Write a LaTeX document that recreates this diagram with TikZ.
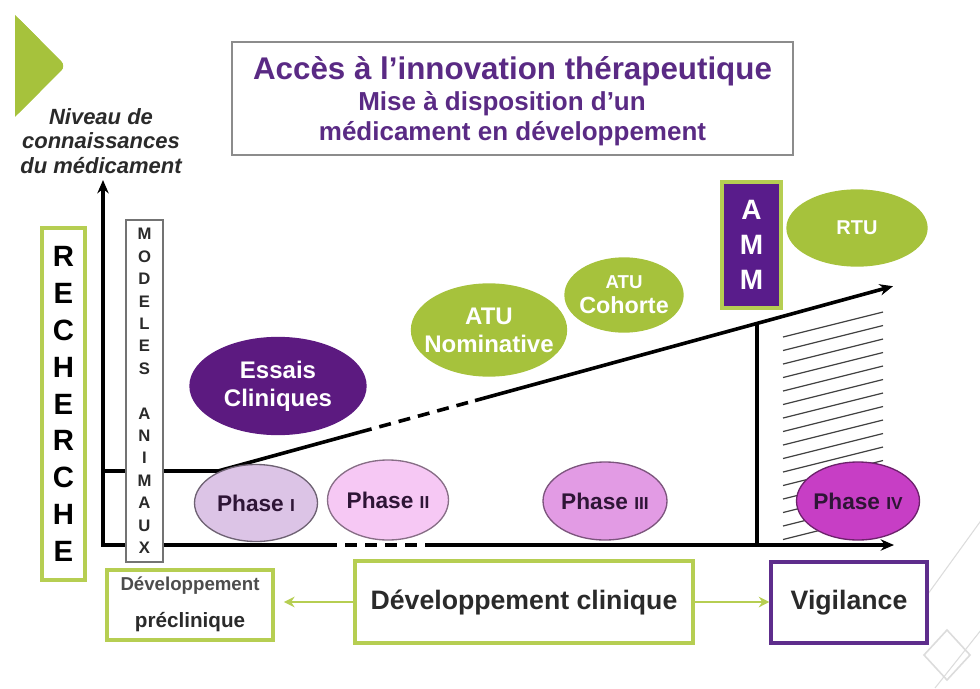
\documentclass[tikz,border=0pt]{standalone}
\usepackage{fontspec}
\setmainfont{Liberation Sans}
\usetikzlibrary{shapes.geometric,arrows.meta}
\definecolor{lime}{HTML}{A6C23C}
\definecolor{limeb}{HTML}{B6CE52}
\definecolor{deeppurple}{HTML}{5C1A80}
\definecolor{ammpurple}{HTML}{591C8B}
\definecolor{titlepurple}{HTML}{5A2A84}
\definecolor{vigpurple}{HTML}{5E2D8C}
\definecolor{ph1}{HTML}{DCC4E6}
\definecolor{ph2}{HTML}{F6C8F4}
\definecolor{ph3}{HTML}{E29BE4}
\definecolor{ph4}{HTML}{C73EC5}
\definecolor{phtext}{HTML}{2E1536}
\definecolor{deco}{HTML}{DCDCDC}
\definecolor{darktext}{HTML}{2A2A2A}
\begin{document}
\begin{tikzpicture}[x=0.75pt,y=-0.75pt,
  axis/.style={line width=2.7pt,black},
  axtip/.style={-{Stealth[length=10pt,width=8.5pt]}},
  dashpart/.style={dash pattern=on 9pt off 6pt},
  hatchline/.style={line width=0.9pt,black!75},
  ell/.style={ellipse,inner sep=0pt,draw,line width=1pt},
  greenbox/.style={draw=limeb,line width=2.4pt,fill=white,inner sep=0pt},
  greenarrow/.style={draw=limeb,line width=2pt,-{Stealth[length=8pt,width=8pt]}},
  whitetxt/.style={text=white,font=\bfseries\fontsize{18pt}{21pt}\selectfont,align=center},
  phtxt/.style={text=phtext,font=\bfseries\fontsize{17pt}{20pt}\selectfont}
]
\useasboundingbox (0,0) rectangle (980,688);
% background decoration
\draw[deco,line width=0.8pt] (985,515) -- (925,598);
\draw[deco,line width=1.2pt] (947,630) -- (970,655) -- (947,680) -- (924,655) -- cycle;
\draw[deco,line width=0.8pt] (985,625) -- (935,688);
% green triangle
\fill[lime,rounded corners=5pt] (15,15) -- (66,66) -- (15,117) -- cycle;
\fill[lime] (15,15) -- (40,40) -- (40,92) -- (15,117) -- cycle;
% axis label
\node[font=\bfseries\itshape\fontsize{16.5pt}{18.5pt}\selectfont,text=darktext,align=center] (ylabel) at (101,141) {Niveau de\\connaissances\\du médicament};
% title
\node[draw=black!45,line width=1.2pt,minimum width={561*0.75pt},minimum height={113*0.75pt},inner sep=0pt] (titlebox) at (512.5,98.5) {};
\node[text=titlepurple,font=\bfseries\fontsize{23.5pt}{26pt}\selectfont] (t1) at (512.5,71) {Accès à l’innovation thérapeutique};
\node[text=titlepurple,font=\bfseries\fontsize{19.5pt}{22pt}\selectfont] (t2) at (502,104) {Mise à disposition d’un};
\node[text=titlepurple,font=\bfseries\fontsize{19.5pt}{22pt}\selectfont] (t3) at (512.5,134) {médicament en développement};
% axes
\coordinate (ytop) at (103,180);
\coordinate (origin) at (103,545);
\coordinate (xd1) at (325,545);
\coordinate (xd2) at (433,545);
\coordinate (xend) at (894,545);
\draw[axis,{Stealth[length=10pt,width=8.5pt]}-] (ytop) -- (origin) -- (xd1);
\draw[axis,dashpart] (xd1) -- (xd2);
\draw[axis,axtip] (xd2) -- (xend);
\coordinate (u0) at (103,471);
\coordinate (u1) at (218,471);
\coordinate (u2) at (360,432.1);
\coordinate (u3) at (475,400.6);
\coordinate (uend) at (893,286.2);
\draw[axis] (u0) -- (u1) -- (u2);
\draw[axis,dashpart] (u2) -- (u3);
\draw[axis,axtip] (u3) -- (uend);
\coordinate (vb) at (757,545);
\coordinate (vt) at (757,323.4);
\draw[axis] (vb) -- (vt);
% hatching
\foreach \k in {0,...,15} \draw[hatchline] (783,{337+13.5*\k}) -- (883,{312+13.5*\k});
% ellipses
\node[ell,fill=deeppurple,draw=deeppurple,minimum width={176*0.75pt},minimum height={97*0.75pt}] (essais) at (278,386) {};
\node[whitetxt] (essaistxt) at (essais.center) {Essais\\Cliniques};
\node[ell,fill=lime,draw=lime,minimum width={155*0.75pt},minimum height={92*0.75pt}] (atun) at (489,330) {};
\node[whitetxt] (atuntxt) at (atun.center) {ATU\\Nominative};
\node[ell,fill=lime,draw=lime,minimum width={118*0.75pt},minimum height={74*0.75pt}] (atuc) at (624,295) {};
\node[whitetxt,font=\bfseries\fontsize{17.5pt}{19pt}\selectfont] (atuctxt) at (atuc.center) {{\fontsize{14pt}{15pt}\selectfont ATU}\\Cohorte};
\node[ell,fill=lime,draw=lime,minimum width={140*0.75pt},minimum height={76*0.75pt}] (rtu) at (857,228) {};
\node[whitetxt,font=\bfseries\fontsize{15pt}{17pt}\selectfont] (rtutxt) at (rtu.center) {RTU};
\node[ell,fill=ph1,draw=black!50!ph1,minimum width={123*0.75pt},minimum height={77*0.75pt}] (p1) at (256,503) {};
\node[phtxt] (p1txt) at (p1.center) {Phase {\fontsize{13pt}{13pt}\selectfont I}};
\node[ell,fill=ph2,draw=black!45!ph2,minimum width={121*0.75pt},minimum height={80*0.75pt}] (p2) at (388,500) {};
\node[phtxt] (p2txt) at (p2.center) {Phase {\fontsize{13pt}{13pt}\selectfont II}};
\node[ell,fill=ph3,draw=black!45!ph3,minimum width={124*0.75pt},minimum height={78*0.75pt}] (p3) at (605,501) {};
\node[phtxt] (p3txt) at (p3.center) {Phase {\fontsize{13pt}{13pt}\selectfont III}};
\node[ell,fill=ph4,draw=black!45!ph4,minimum width={123*0.75pt},minimum height={78*0.75pt}] (p4) at (858,501) {};
\node[phtxt] (p4txt) at (p4.center) {Phase {\fontsize{13pt}{13pt}\selectfont IV}};
% vertical boxes
\node[greenbox,minimum width={43*0.75pt},minimum height={352*0.75pt},align=center,font=\bfseries\fontsize{22pt}{27.6pt}\selectfont] (rech) at (63.5,404) {R\\E\\C\\H\\E\\R\\C\\H\\E};
\node[draw=black!55,line width=1pt,fill=white,inner sep=0pt,minimum width={37*0.75pt},minimum height={342*0.75pt},align=center,text=darktext,font=\bfseries\fontsize{12.5pt}{16.8pt}\selectfont] (modeles) at (144.5,391) {M\\O\\D\\E\\L\\E\\S\\\mbox{}\\A\\N\\I\\M\\A\\U\\X};
\node[draw=limeb,line width=2.5pt,fill=ammpurple,inner sep=0pt,minimum width={59*0.75pt},minimum height={126*0.75pt},align=center,text=white,font=\bfseries\fontsize{21pt}{26.2pt}\selectfont] (amm) at (751.5,245) {A\\M\\M};
% bottom boxes
\node[greenbox,minimum width={166*0.75pt},minimum height={70*0.75pt}] (precl) at (190,605) {};
\node[text=black!70,font=\bfseries\fontsize{14pt}{16pt}\selectfont] (precl1) at (190,586) {Développement};
\node[text=darktext,font=\bfseries\fontsize{15.5pt}{17pt}\selectfont] (precl2) at (190,622) {préclinique};
\node[greenbox,minimum width={338*0.75pt},minimum height={82*0.75pt},text=darktext,font=\bfseries\fontsize{20pt}{24pt}\selectfont] (clin) at (524,602) {Développement clinique};
\node[draw=vigpurple,line width=2.4pt,fill=white,inner sep=0pt,minimum width={156*0.75pt},minimum height={81*0.75pt},text=darktext,font=\bfseries\fontsize{20pt}{24pt}\selectfont] (vig) at (849,602.5) {Vigilance};
\draw[greenarrow,shorten >=7pt] (clin.west) -- (clin.west -| precl.east);
\draw[greenarrow] (clin.east) -- (clin.east -| vig.west);
\end{tikzpicture}
\end{document}
